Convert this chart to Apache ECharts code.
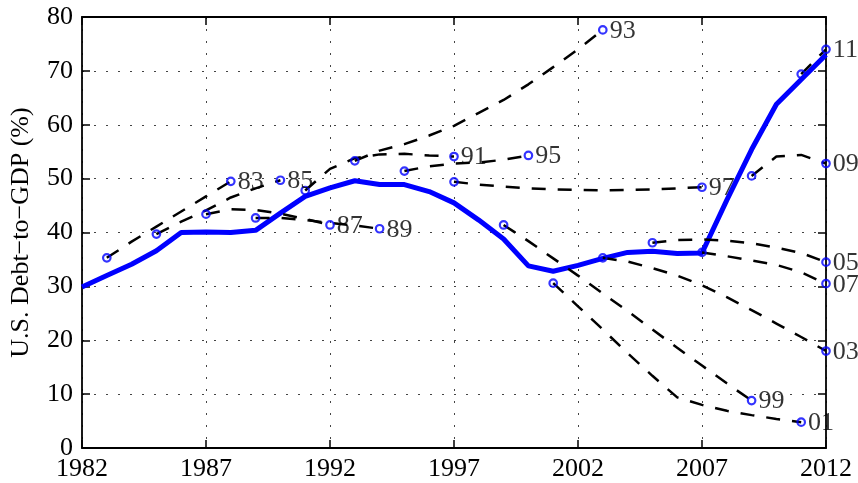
<!DOCTYPE html>
<html>
<head>
<meta charset="utf-8">
<script src="https://cdn.jsdelivr.net/npm/echarts@6/dist/echarts.min.js"></script>
<style>
  html, body { margin: 0; padding: 0; background: #ffffff; }
  #chart { width: 858px; height: 483px; }
</style>
</head>
<body>
<div id="chart"></div>
<script>
// Axis origin year: x values are stored as years and plotted as offsets from it
const BASE_YEAR = 1982;
const xTickYears = [1982, 1987, 1992, 1997, 2002, 2007, 2012];
const yTickValues = [0, 10, 20, 30, 40, 50, 60, 70, 80];

// Actual U.S. debt held by the public, % of GDP
const actualYears = [1982, 1983, 1984, 1985, 1986, 1987, 1988, 1989, 1990, 1991,
                     1992, 1993, 1994, 1995, 1996, 1997, 1998, 1999, 2000, 2001,
                     2002, 2003, 2004, 2005, 2006, 2007, 2008, 2009, 2010, 2011, 2012];
const actualDebt = [29.9, 32.0, 34.1, 36.6, 40.0, 40.1, 40.0, 40.4, 43.6, 46.7,
                    48.3, 49.6, 48.9, 48.9, 47.6, 45.5, 42.3, 38.8, 33.8, 32.8,
                    33.9, 35.2, 36.3, 36.5, 36.1, 36.2, 46.0, 55.4, 63.8, 68.4, 73.0];

// Projections: label, first projected year, yearly values from that year on
const projectionLabels = ['83', '85', '87', '89', '91', '93', '95', '97', '99', '01', '03', '05', '07', '09', '11'];
const projectionStartYears = [1983, 1985, 1987, 1989, 1991, 1993, 1995, 1997, 1999, 2001, 2003, 2005, 2007, 2009, 2011];
const proj83 = [35.3, 38.3, 41.1, 43.9, 46.7, 49.5];
const proj85 = [39.7, 42.0, 44.1, 46.5, 48.2, 49.7];
const proj87 = [43.4, 44.3, 44.2, 43.5, 42.5, 41.4];
const proj89 = [42.7, 42.7, 42.3, 41.8, 41.3, 40.7];
const proj91 = [47.8, 51.8, 53.8, 54.5, 54.6, 54.3, 54.1];
const proj93 = [53.3, 55.2, 56.4, 58.0, 59.8, 62.2, 64.6, 67.5, 70.7, 74.0, 77.6];
const proj95 = [51.4, 52.3, 52.8, 53.0, 53.5, 54.3];
const proj97 = [49.4, 48.9, 48.5, 48.2, 48.0, 47.9, 47.8, 47.9, 48.0, 48.2, 48.4];
const proj99 = [41.4, 38.4, 35.2, 32.0, 28.7, 25.4, 22.0, 18.6, 15.3, 12.0, 8.8];
const proj01 = [30.6, 26.3, 22.0, 17.6, 13.4, 9.4, 8.0, 6.9, 6.1, 5.4, 4.8];
const proj03 = [35.3, 34.6, 33.4, 32.0, 30.2, 28.0, 25.6, 23.1, 20.6, 18.0];
const proj05 = [38.1, 38.6, 38.7, 38.5, 38.0, 37.2, 36.2, 34.5];
const proj07 = [36.3, 35.6, 34.8, 34.0, 32.6, 30.5];
const proj09 = [50.5, 54.1, 54.4, 52.8];
const proj11 = [69.4, 74.0];
const projectionValues = [proj83, proj85, proj87, proj89, proj91, proj93, proj95, proj97,
                          proj99, proj01, proj03, proj05, proj07, proj09, proj11];

const yAxisTitle = 'U.S. Debt\u2212to\u2212GDP (%)';

const FONT = "'Liberation Serif', 'Times New Roman', serif";
const BLUE = '#0000ff';

const toPoint = (year, v) => [year - BASE_YEAR, v];

const series = [];

// Actual path
series.push({
  type: 'line',
  name: 'actual',
  data: actualYears.map((y, i) => toPoint(y, actualDebt[i])),
  symbol: 'none',
  lineStyle: { color: BLUE, width: 5 },
  z: 2,
  clip: false
});

// Dashed projection paths
const markerData = [];
projectionValues.forEach((vals, k) => {
  const start = projectionStartYears[k];
  const pts = vals.map((v, i) => toPoint(start + i, v));
  series.push({
    type: 'line',
    name: 'proj' + projectionLabels[k],
    data: pts,
    symbol: 'none',
    lineStyle: { color: '#000000', width: 2.5, type: [14, 12] },
    z: 3,
    clip: false
  });
  markerData.push({ value: pts[0], label: { show: false } });
  markerData.push({ value: pts[pts.length - 1], name: projectionLabels[k] });
});

// Open circle markers at the start and end of each projection, end labelled
series.push({
  type: 'scatter',
  name: 'markers',
  data: markerData,
  symbol: 'circle',
  symbolSize: 7.5,
  itemStyle: { color: 'rgba(0,0,0,0)', borderColor: BLUE, borderWidth: 2.2 },
  label: {
    show: true,
    position: 'right',
    distance: 2,
    formatter: p => p.name,
    fontFamily: FONT,
    fontSize: 26,
    color: '#000000',
    offset: [0, 1]
  },
  z: 4,
  clip: false
});

const gridLine = { show: true, lineStyle: { color: '#444444', width: 1, type: [2, 10] } };
const boxLine = { show: true, onZero: false, lineStyle: { color: '#000000', width: 1.8 } };
const tick = { show: true, inside: true, length: 8, lineStyle: { color: '#000000', width: 1.5 } };

const option = {
  animation: false,
  backgroundColor: '#ffffff',
  grid: { left: 82, right: 32, top: 17, bottom: 35 },
  xAxis: [
    {
      type: 'value',
      position: 'bottom',
      min: 0, max: 30, interval: 5,
      axisLine: boxLine,
      axisTick: tick,
      splitLine: gridLine,
      axisLabel: {
        margin: 8,
        fontFamily: FONT, fontSize: 26, color: '#000000',
        formatter: v => String(xTickYears[Math.round(v / 5)])
      }
    },
    {
      type: 'value',
      position: 'top',
      min: 0, max: 30, interval: 5,
      axisLine: boxLine,
      axisTick: tick,
      splitLine: { show: false },
      axisLabel: { show: false }
    }
  ],
  yAxis: [
    {
      type: 'value',
      position: 'left',
      min: 0, max: 80, interval: 10,
      axisLine: boxLine,
      axisTick: tick,
      splitLine: gridLine,
      axisLabel: {
        margin: 9,
        fontFamily: FONT, fontSize: 26, color: '#000000',
        formatter: v => String(yTickValues[Math.round(v / 10)])
      },
      name: yAxisTitle,
      nameLocation: 'middle',
      nameGap: 48,
      nameTextStyle: { fontFamily: FONT, fontSize: 26, color: '#000000' }
    },
    {
      type: 'value',
      position: 'right',
      min: 0, max: 80, interval: 10,
      axisLine: boxLine,
      axisTick: tick,
      splitLine: { show: false },
      axisLabel: { show: false }
    }
  ],
  series: series
};

const chart = echarts.init(document.getElementById('chart'), null, { renderer: 'canvas' });
chart.setOption(option);
</script>
</body>
</html>
